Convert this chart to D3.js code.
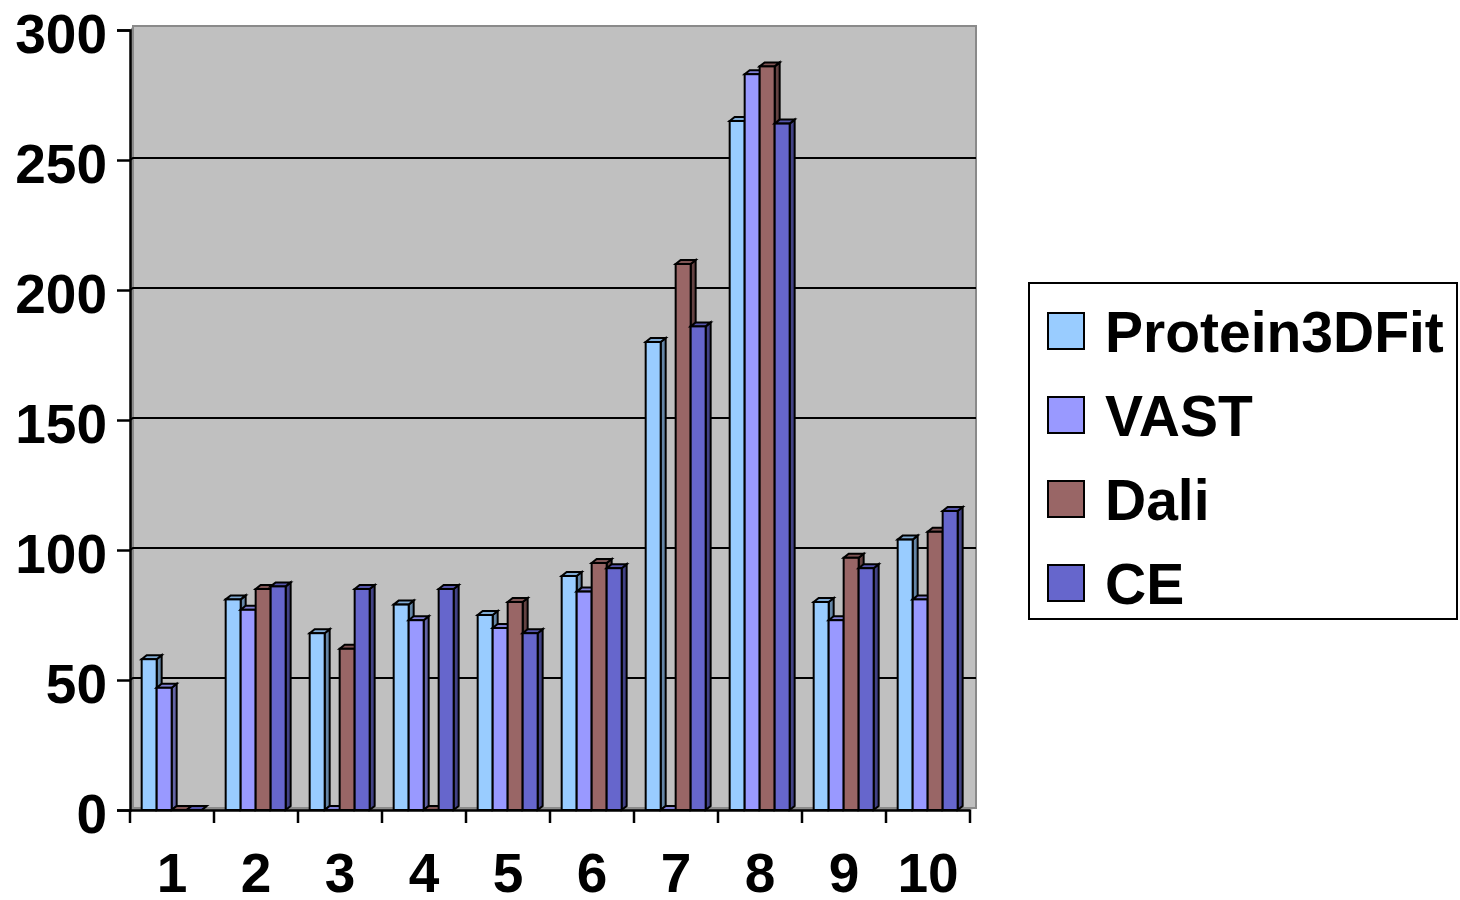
<!DOCTYPE html>
<html>
<head>
<meta charset="utf-8">
<script src="https://cdn.jsdelivr.net/npm/d3@7"></script>
<style>
  html, body { margin: 0; padding: 0; background: #ffffff; }
  svg { display: block; }
  text { font-family: "Liberation Sans", Arial, sans-serif; font-weight: bold; fill: #000; }
</style>
</head>
<body>
<svg id="chart" width="1460" height="900"></svg>
<script>
// Structure comparison counts per test case
const categories = ["1", "2", "3", "4", "5", "6", "7", "8", "9", "10"];
const seriesNames = ["Protein3DFit", "VAST", "Dali", "CE"];
const protein3DFit = [58, 81, 68, 79, 75, 90, 180, 265, 80, 104];
const vast         = [47, 77, 0, 73, 70, 84, 0, 283, 73, 81];
const dali         = [0, 85, 62, 0, 80, 95, 210, 286, 97, 107];
const ce           = [0, 86, 85, 85, 68, 93, 186, 264, 93, 115];
const seriesColors = ["#99CCFF", "#9999FF", "#996666", "#6666CC"];
const yTicks = [0, 50, 100, 150, 200, 250, 300];

const seriesValues = [protein3DFit, vast, dali, ce];

const svg = d3.select("#chart");
const fontSize = 55;
const legendFontSize = 57;

// Scales: front axis plane
const y = d3.scaleLinear().domain([0, 300]).range([810, 30]);
const x0 = d3.scaleBand().domain(categories).range([130, 970]).paddingInner(0).paddingOuter(0);
const bw = x0.bandwidth();
const x1 = d3.scaleBand().domain(seriesNames).range([bw * 0.139, bw * 0.853]);

// 3D depth offsets
const dx = 5, dy = -4;
const wall = { left: 133, right: 976, top: 26, bottom: 808 };
const backShift = -2;

// Back wall
svg.append("polygon")
  .attr("points", [[130, y(300)], [wall.left, wall.top], [wall.left, wall.bottom], [130, y(0)]].join(" "))
  .attr("fill", "#8c8c8c");
svg.append("rect")
  .attr("x", wall.left).attr("y", wall.top)
  .attr("width", wall.right - wall.left).attr("height", wall.bottom - wall.top)
  .attr("fill", "#C0C0C0")
  .attr("stroke", "#8a8a8a").attr("stroke-width", 2);
// Floor edge
svg.append("polygon")
  .attr("points", [[130, y(0)], [wall.left, wall.bottom], [wall.right, wall.bottom], [970, y(0)]].join(" "))
  .attr("fill", "#8c8c8c");

// Gridlines on the back wall
svg.append("g").selectAll("path")
  .data(yTicks.filter(t => t > 0 && t < 300))
  .join("path")
  .attr("d", t => `M130,${y(t)} L${wall.left},${y(t) + backShift} L${wall.right},${y(t) + backShift}`)
  .attr("fill", "none")
  .attr("stroke", "#000")
  .attr("stroke-width", 2);

// Bars
const barsG = svg.append("g");
categories.forEach((cat, ci) => {
  seriesNames.forEach((name, si) => {
    const v = seriesValues[si][ci];
    const base = d3.color(seriesColors[si]);
    const x = x0(cat) + x1(name);
    const w = x1.bandwidth();
    const yt = y(v);
    const yb = y(0);
    const g = barsG.append("g")
      .attr("stroke", "#000").attr("stroke-width", 2).attr("stroke-linejoin", "miter");
    // side face
    g.append("polygon")
      .attr("points", [[x + w, yt], [x + w + dx, yt + dy], [x + w + dx, yb + dy], [x + w, yb]].join(" "))
      .attr("fill", base.darker(1.2).formatHex());
    // top face
    g.append("polygon")
      .attr("points", [[x, yt], [x + dx, yt + dy], [x + w + dx, yt + dy], [x + w, yt]].join(" "))
      .attr("fill", base.darker(0.5).formatHex());
    // front face
    if (v > 0) {
      g.append("rect")
        .attr("x", x).attr("y", yt)
        .attr("width", w).attr("height", yb - yt)
        .attr("fill", seriesColors[si]);
    }
  });
});

// Y axis
const yAxis = svg.append("g")
  .attr("transform", "translate(130,0)")
  .call(d3.axisLeft(y).tickValues(yTicks).tickSize(13).tickPadding(10).tickFormat(d3.format("d")));
yAxis.select(".domain").attr("stroke", "#000").attr("stroke-width", 2.5);
yAxis.selectAll(".tick line").attr("stroke", "#000").attr("stroke-width", 2.5);
yAxis.selectAll(".tick text")
  .attr("dy", "0.4em")
  .style("font-size", fontSize + "px")
  .style("font-family", "'Liberation Sans', Arial, sans-serif")
  .style("font-weight", "bold")
  .attr("fill", "#000");

// X axis: labels centred in each category band, ticks on band edges
const xAxis = svg.append("g")
  .attr("transform", `translate(0,${y(0)})`)
  .call(d3.axisBottom(x0).tickSize(0).tickPadding(43));
xAxis.select(".domain").attr("stroke", "#000").attr("stroke-width", 2.5);
xAxis.selectAll(".tick text")
  .style("font-size", fontSize + "px")
  .style("font-family", "'Liberation Sans', Arial, sans-serif")
  .style("font-weight", "bold")
  .attr("fill", "#000");
const edges = categories.map(c => x0(c)).concat([x0.range()[1]]);
xAxis.selectAll("line.edge")
  .data(edges)
  .join("line")
  .attr("class", "edge")
  .attr("x1", d => d).attr("x2", d => d)
  .attr("y1", 0).attr("y2", 13)
  .attr("stroke", "#000").attr("stroke-width", 2.5);

// Legend
const legend = svg.append("g");
legend.append("rect")
  .attr("x", 1029).attr("y", 283)
  .attr("width", 428).attr("height", 336)
  .attr("fill", "#fff")
  .attr("stroke", "#000").attr("stroke-width", 2);
const item = legend.selectAll("g.item")
  .data(seriesNames)
  .join("g")
  .attr("class", "item")
  .attr("transform", (d, i) => `translate(1048,${313 + i * 84})`);
item.append("rect")
  .attr("width", 36).attr("height", 36)
  .attr("fill", (d, i) => seriesColors[i])
  .attr("stroke", "#000").attr("stroke-width", 2);
item.append("text")
  .attr("x", 57).attr("y", 39)
  .style("font-size", legendFontSize + "px")
  .text(d => d);
</script>
</body>
</html>
